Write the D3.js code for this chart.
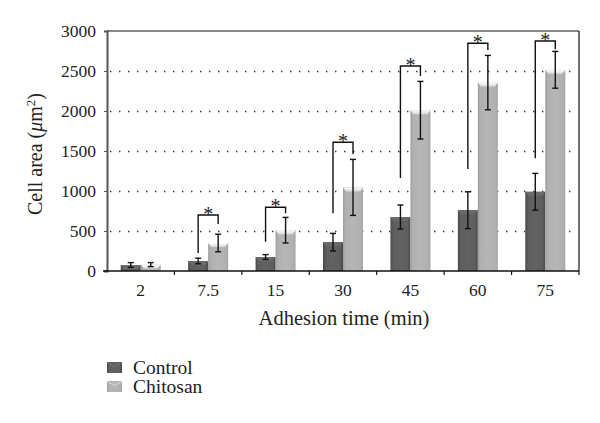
<!DOCTYPE html>
<html><head><meta charset="utf-8">
<script src="https://cdn.jsdelivr.net/npm/d3@7"></script>
<style>body{margin:0;background:#fff}svg{display:block}text{font-family:"Liberation Serif","DejaVu Serif",serif;fill:#222}</style>
</head><body><svg id="c" width="600" height="423"></svg>
<script>
const categories = ["2","7.5","15","30","45","60","75"];
const seriesNames = ["Control","Chitosan"];
const controlValues = [75,125,175,360,675,760,990];
const controlErrors = [30,35,30,110,150,230,230];
const chitosanValues = [80,350,510,1045,2010,2355,2515];
const chitosanErrors = [25,110,160,350,360,340,230];
const yTicks = [0,500,1000,1500,2000,2500,3000];
// significance brackets: left leg bottom, top, right leg bottom (data units); null = none
const bracketLeftBottom = [null,225,366,721,1162,1275,1409];
const bracketTop = [null,700,796,1609,2562,2846,2875];
const bracketRightBottom = [null,587,721,1462,2437,2762,2771];

const svg = d3.select("#c");
const m = {l:107, r:21, t:31, b:152};
const W = 600, H = 423;
const x = d3.scaleBand().domain(categories).range([m.l, W-m.r]).paddingInner(0).paddingOuter(0);
const xs = d3.scaleBand().domain(seriesNames).range([0, 40]);
const y = d3.scaleLinear().domain([0,3000]).range([H-m.b, m.t]);
const barOffset = (x.bandwidth()-40)/2;

const defs = svg.append("defs");
function hgrad(id, stops){
  const g = defs.append("linearGradient").attr("id",id).attr("x1","0").attr("x2","1").attr("y1","0").attr("y2","0");
  stops.forEach(s=>g.append("stop").attr("offset",s[0]).attr("stop-color",s[1]));
}
hgrad("gC",[[0,"#4a4a4a"],[0.15,"#5e5e5e"],[0.5,"#626262"],[0.85,"#5e5e5e"],[1,"#484848"]]);
hgrad("gT",[[0,"#9c9c9c"],[0.12,"#b0b0b0"],[0.5,"#b6b6b6"],[0.88,"#b0b0b0"],[1,"#a4a4a4"]]);
const capG = defs.append("linearGradient").attr("id","cap").attr("x1","0").attr("x2","0").attr("y1","0").attr("y2","1");
capG.append("stop").attr("offset",0).attr("stop-color","#ffffff");
capG.append("stop").attr("offset",1).attr("stop-color","#d8d8d8");

// gridlines
svg.append("g").selectAll("line").data(yTicks.filter(d=>d>0 && d<3000)).join("line")
  .attr("x1",m.l+3).attr("x2",W-m.r-3).attr("y1",d=>Math.round(y(d))+0.5).attr("y2",d=>Math.round(y(d))+0.5)
  .attr("stroke","#333").attr("stroke-width",1.4).attr("stroke-dasharray","1.4,7.6");

// frame top/right
svg.append("line").attr("x1",m.l).attr("x2",W-m.r).attr("y1",y(3000)).attr("y2",y(3000)).attr("stroke","#111").attr("stroke-width",1.2);
svg.append("line").attr("x1",W-m.r).attr("x2",W-m.r).attr("y1",y(3000)).attr("y2",y(0)).attr("stroke","#111").attr("stroke-width",1.2);

const rows = categories.map((c,i)=>({c, vals:[
  {s:"Control", v:controlValues[i], e:controlErrors[i]},
  {s:"Chitosan", v:chitosanValues[i], e:chitosanErrors[i]}]}));

const grp = svg.append("g").selectAll("g").data(rows).join("g")
  .attr("transform",d=>`translate(${x(d.c)+barOffset},0)`);
const bars = grp.selectAll("g.b").data(d=>d.vals).join("g").attr("class","b");
bars.append("rect").attr("x",d=>xs(d.s)).attr("width",xs.bandwidth())
  .attr("y",d=>y(d.v)).attr("height",d=>y(0)-y(d.v))
  .attr("fill",d=>d.s==="Control"?"url(#gC)":"url(#gT)");
// top caps
bars.append("path").attr("d",d=>{
  const x0=xs(d.s), w=xs.bandwidth(), t=y(d.v);
  const h = Math.min(4, y(0)-t);
  return `M${x0},${t}L${x0+w},${t}L${x0+w-3},${t+h}L${x0+3},${t+h}Z`;
}).attr("fill",d=>d.s==="Control"?"#6a6a6a":"url(#cap)");
// error bars
const eb = bars.append("g").attr("stroke","#111").attr("stroke-width",1.4);
eb.append("line").attr("x1",d=>xs(d.s)+xs.bandwidth()/2).attr("x2",d=>xs(d.s)+xs.bandwidth()/2)
  .attr("y1",d=>y(d.v+d.e)).attr("y2",d=>y(d.v-d.e));
eb.append("line").attr("x1",d=>xs(d.s)+xs.bandwidth()/2-3).attr("x2",d=>xs(d.s)+xs.bandwidth()/2+3)
  .attr("y1",d=>y(d.v+d.e)).attr("y2",d=>y(d.v+d.e));
eb.append("line").attr("x1",d=>xs(d.s)+xs.bandwidth()/2-3).attr("x2",d=>xs(d.s)+xs.bandwidth()/2+3)
  .attr("y1",d=>y(d.v-d.e)).attr("y2",d=>y(d.v-d.e));

// brackets
const bdata = categories.map((c,i)=>({c, lb:bracketLeftBottom[i], t:bracketTop[i], rb:bracketRightBottom[i]})).filter(d=>d.t!==null);
const bg = svg.append("g");
bdata.forEach(d=>{
  const xl = x(d.c)+barOffset+xs("Control")+xs.bandwidth()/2;
  const xr = x(d.c)+barOffset+xs("Chitosan")+xs.bandwidth()/2;
  bg.append("path").attr("d",`M${xl},${y(d.lb)}L${xl},${y(d.t)}L${xr},${y(d.t)}L${xr},${y(d.rb)}`)
    .attr("fill","none").attr("stroke","#111").attr("stroke-width",1.4);
  bg.append("text").attr("x",(xl+xr)/2).attr("y",y(d.t)+6).attr("text-anchor","middle")
    .attr("font-size",20).text("*");
});

// axes
const yAxis = svg.append("g").attr("transform",`translate(${m.l},0)`)
  .call(d3.axisLeft(y).tickValues(yTicks).tickSize(3).tickPadding(8).tickFormat(d3.format("d")));
yAxis.select(".domain").attr("stroke","#555").attr("stroke-width",2);
yAxis.selectAll(".tick line").attr("stroke","#555");
yAxis.selectAll("text").attr("font-size",17.5).attr("font-family","Liberation Serif").attr("fill","#222");

const xAxis = svg.append("g").attr("transform",`translate(0,${y(0)})`)
  .call(d3.axisBottom(x).tickSize(0).tickPadding(13));
xAxis.select(".domain").remove();
xAxis.selectAll("text").attr("font-size",17.5).attr("font-family","Liberation Serif").attr("fill","#222");
svg.append("line").attr("x1",m.l-4).attr("x2",W-m.r).attr("y1",y(0)).attr("y2",y(0)).attr("stroke","#111").attr("stroke-width",1.5);
// boundary ticks
svg.append("g").selectAll("line").data(categories.slice(1).concat(["end"])).join("line")
  .attr("x1",d=>d==="end"?W-m.r:x(d)).attr("x2",d=>d==="end"?W-m.r:x(d))
  .attr("y1",y(0)).attr("y2",y(0)+4).attr("stroke","#111").attr("stroke-width",1.2);

// axis titles
svg.append("text").attr("transform",`translate(42,${(m.t+H-m.b)/2+3}) rotate(-90)`).attr("text-anchor","middle")
  .attr("font-size",20)
  .html('Cell area (<tspan font-style="italic">μ</tspan>m<tspan dy="-7" font-size="13">2</tspan><tspan dy="7">)</tspan>');
svg.append("text").attr("x",344).attr("y",325).attr("text-anchor","middle").attr("font-size",20.5).text("Adhesion time (min)");

// legend
const lg = svg.append("g").selectAll("g").data(seriesNames).join("g").attr("transform",(d,i)=>`translate(107,${362+i*19})`);
lg.append("rect").attr("width",15).attr("height",11).attr("fill",d=>d==="Control"?"url(#gC)":"url(#gT)");
lg.append("path").attr("d","M0,0L7.5,4L15,0L15,1L7.5,5L0,1Z").attr("fill",d=>d==="Control"?"#777":"#ddd");
lg.append("text").attr("x",26).attr("y",11.5).attr("font-size",19.5).text(d=>d);
</script></body></html>
